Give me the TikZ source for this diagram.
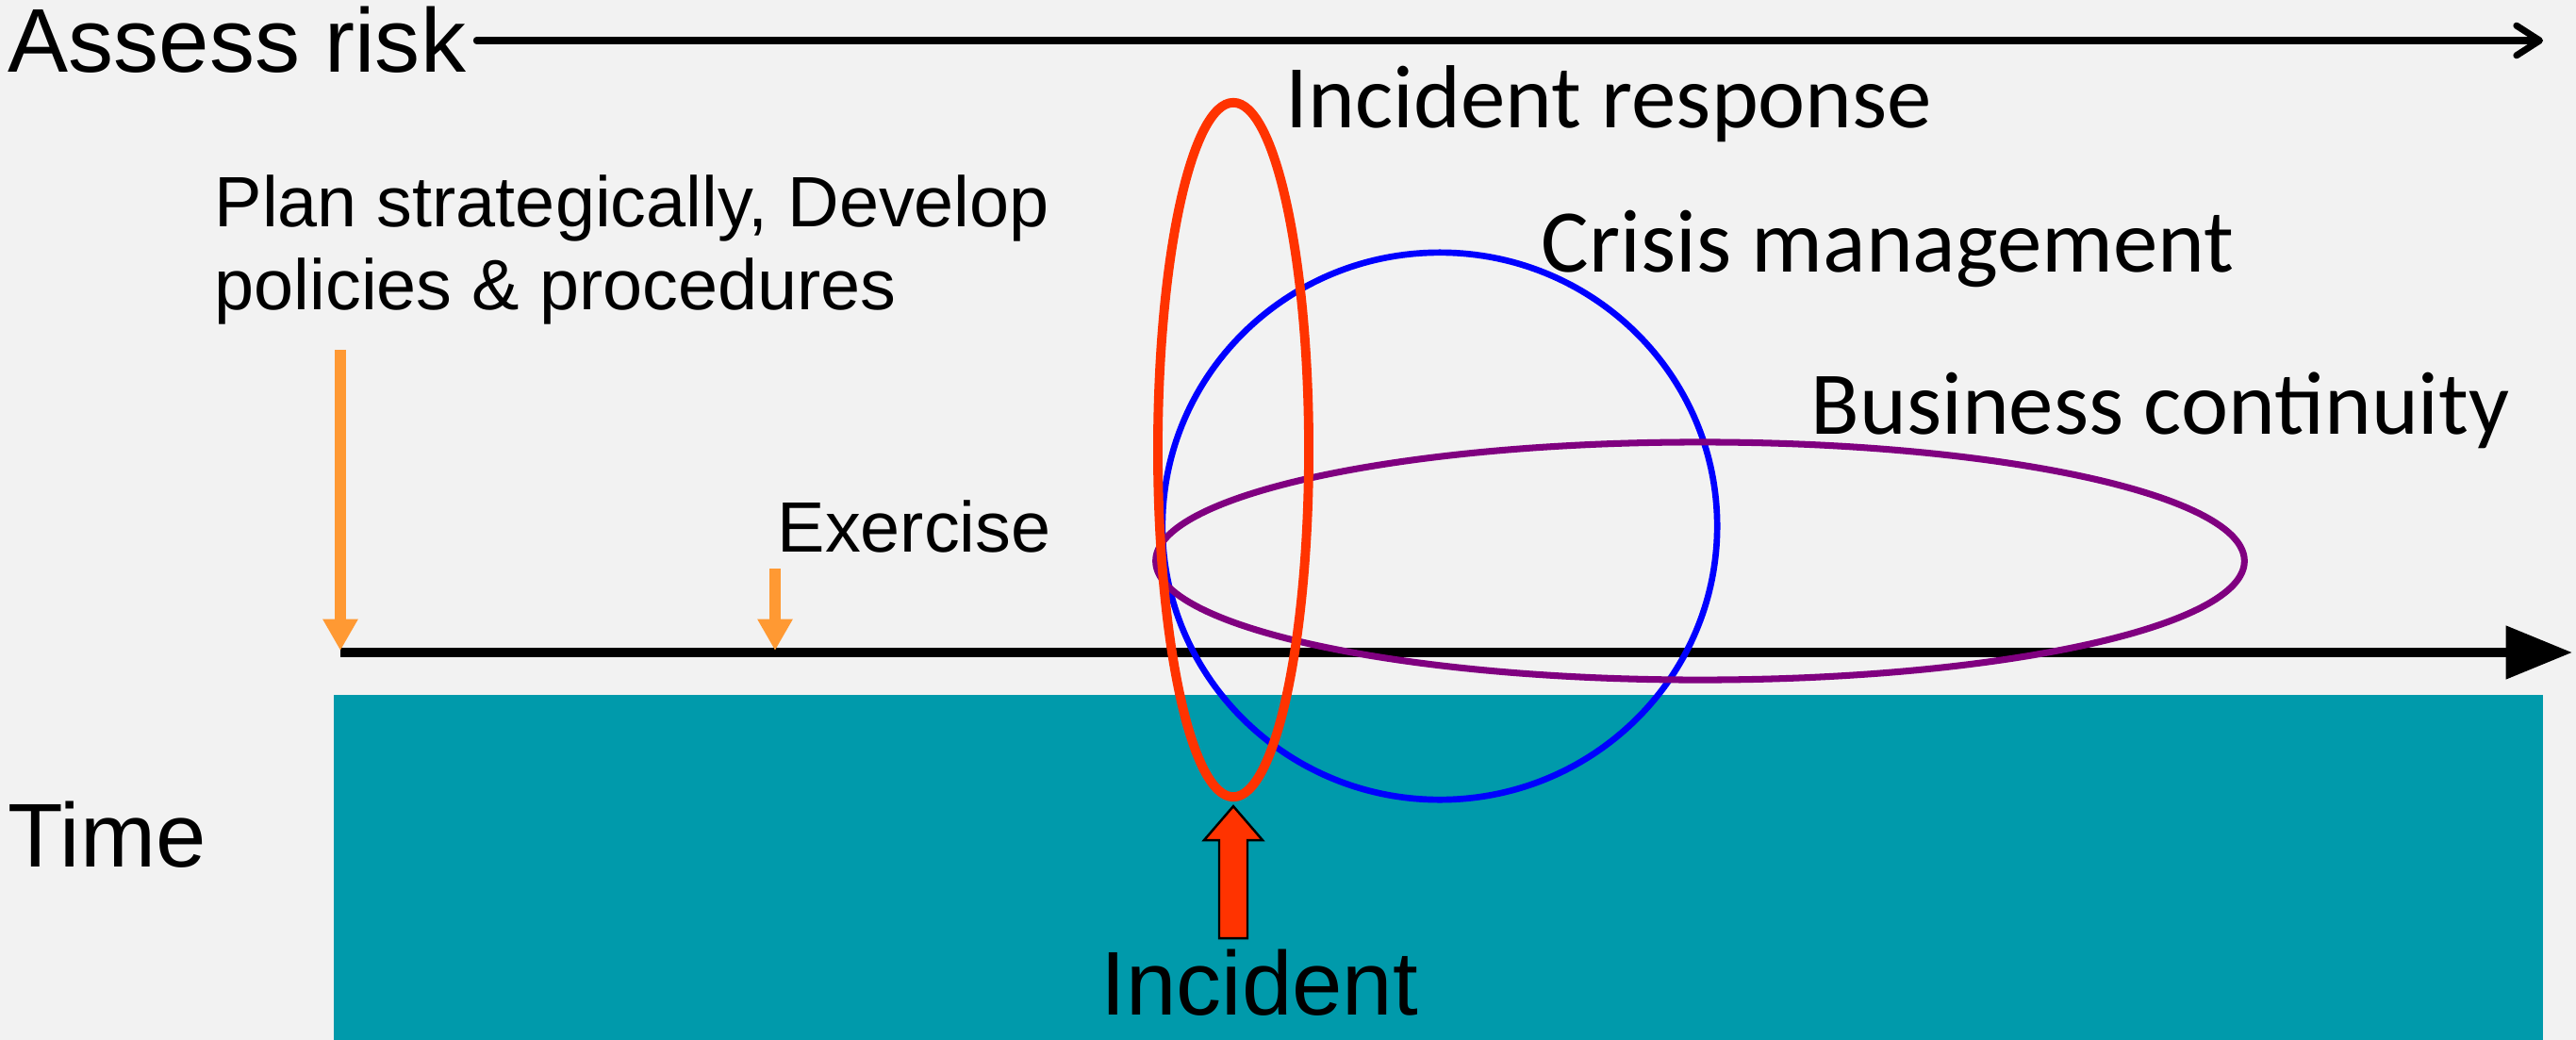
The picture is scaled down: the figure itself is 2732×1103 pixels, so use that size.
\documentclass[tikz,border=0pt]{standalone}
\usepackage{fontspec}
\setmainfont{Liberation Sans}
\newfontfamily\calfont{Carlito}
\usetikzlibrary{arrows.meta,shapes.geometric}
\definecolor{bgc}{HTML}{F2F2F2}
\definecolor{tealc}{HTML}{009AAB}
\definecolor{orangec}{HTML}{FF9933}
\definecolor{redc}{HTML}{FF3300}
\definecolor{bluec}{HTML}{0000FF}
\definecolor{purplec}{HTML}{800080}
\tikzset{
  bigsans/.style={font=\fontsize{27.3}{32}\selectfont, inner sep=0pt, anchor=base west},
  smallsans/.style={font=\fontsize{21.5}{25}\selectfont, inner sep=0pt, anchor=base west},
  calib/.style={font=\calfont\fontsize{27}{32}\selectfont, inner sep=0pt, anchor=base west},
  phase/.style={ellipse, inner sep=0pt, draw},
  orangearrow/.style={draw=orangec, line width=3.3pt, -{Triangle[length=9.5pt,width=10pt,fill=orangec]}},
}
\begin{document}
\begin{tikzpicture}[x=0.01cm,y=-0.01cm]
\fill[bgc] (0,0) rectangle (2732,1103);
\useasboundingbox (0,0) rectangle (2732,1103);
\fill[tealc] (354,737) rectangle (2697,1103);

% labels
\node[bigsans] (assess) at (8,77) {Assess risk};
\node[bigsans] (time) at (8,919) {Time};
\node[bigsans] (incident) at (1167,1076) {Incident};
\node[calib] (irlabel) at (1363,136) {Incident response};
\node[calib] (cmlabel) at (1634,288) {Crisis management};
\node[calib] (bclabel) at (1920,460) {Business continuity};
\node[smallsans] (exercise) at (824,585) {Exercise};
\node[smallsans, align=left] (plan) at (227,328) {Plan strategically, Develop\\policies \& procedures};

% assess risk arrow
\coordinate (riskstart) at ([xshift=3pt]assess.east);
\coordinate (riskend) at (2697,43);
\draw[line width=2pt, line cap=round, -{Straight Barb[length=7pt,width=9pt,round]}] (riskstart |- riskend) -- (riskend);

% timeline
\coordinate (tlstart) at (361,692);
\coordinate (tlend) at (2728,692);
\draw[line width=2.7pt, -{Triangle[length=20pt,width=15.5pt]}] (tlstart) -- (tlend);

% orange arrows
\coordinate (plantop) at (361,371);
\coordinate (plantip) at (361,690);
\coordinate (extop) at (822,603);
\coordinate (extip) at (822,690);
\draw[orangearrow] (plantop) -- (plantip);
\draw[orangearrow] (extop) -- (extip);

% phases
\node[phase, draw=bluec, line width=1.9pt, minimum width=5.88cm, minimum height=5.80cm] (cm) at (1527,558) {};
\node[phase, draw=purplec, line width=2pt, minimum width=11.54cm, minimum height=2.52cm] (bc) at (1803,595) {};
\node[phase, draw=redc, line width=2.8pt, minimum width=1.60cm, minimum height=7.36cm] (ir) at (1308,477) {};

% incident block arrow
\coordinate (inctip) at ([yshift=-1.4pt]ir.south);
\draw[fill=redc, line width=0.7pt, line join=miter] (inctip) -- ++(31,36) -- ++(-16,0) -- ++(0,104) -- ++(-30,0) -- ++(0,-104) -- ++(-16,0) -- cycle;
\end{tikzpicture}
\end{document}
